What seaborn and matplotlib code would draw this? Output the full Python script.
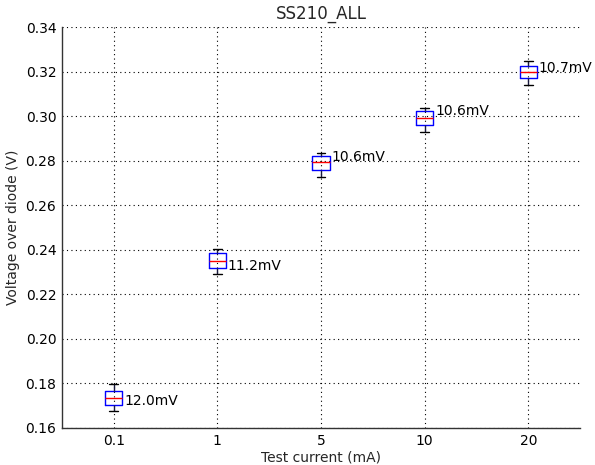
import numpy as np
import pandas as pd
import matplotlib
matplotlib.use("Agg")
import matplotlib.pyplot as plt
import seaborn as sns

# Test currents (mA) and five-number summaries of the measured diode voltage (V)
currents = ["0.1", "1", "5", "10", "20"]
v_min = [0.1677, 0.2290, 0.2728, 0.2930, 0.3140]
v_q1 = [0.1703, 0.2318, 0.2758, 0.2960, 0.3171]
v_med = [0.1735, 0.2352, 0.2794, 0.2991, 0.3198]
v_q3 = [0.1766, 0.2385, 0.2821, 0.3023, 0.3225]
v_max = [0.1797, 0.2402, 0.2834, 0.3036, 0.3247]
# Vertical anchor of each spread annotation (V)
label_y = [0.1721, 0.2327, 0.2816, 0.3023, 0.3216]

rows = []
for c, a, b, m, d, e in zip(currents, v_min, v_q1, v_med, v_q3, v_max):
    for v in (a, b, m, d, e):
        rows.append({"current": c, "voltage": v})
df = pd.DataFrame(rows)

sns.set_style("white")
plt.rcParams["font.family"] = ["DejaVu Sans"]

fig = plt.figure(figsize=(5.95, 4.65), dpi=100)
ax = fig.add_axes([0.104, 0.0796, 0.871, 0.862])

sns.boxplot(
    data=df, x="current", y="voltage", order=currents, ax=ax,
    width=0.165, whis=np.inf, fill=False, linewidth=1.0,
    boxprops=dict(color="#0000ff"),
    medianprops=dict(color="#ff0000"),
    whiskerprops=dict(color="#1a1a40", linestyle="-"),
    capprops=dict(color="#000000"),
    showfliers=False,
)

for i, (lo, hi, ly) in enumerate(zip(v_min, v_max, label_y)):
    ax.text(i + 0.1, ly, f"{(hi - lo) * 1000:.1f}mV", ha="left", va="center",
            fontsize=10, color="black")

ax.set_xlim(-0.5, 4.5)
ax.set_ylim(0.16, 0.34)
ax.set_yticks(np.arange(0.16, 0.3401, 0.02))
ax.set_yticklabels([f"{t:.2f}" for t in np.arange(0.16, 0.3401, 0.02)])
ax.grid(True, color="black", linestyle=(0, (1, 3)), linewidth=0.8)
ax.set_axisbelow(True)
for s in ("top", "right"):
    ax.spines[s].set_visible(False)
for s in ("left", "bottom"):
    ax.spines[s].set_color("#333333")
    ax.spines[s].set_linewidth(1.0)
ax.tick_params(length=0, labelsize=10, colors="black", pad=4)

ax.set_title("SS210_ALL", fontsize=12, pad=6)
ax.set_xlabel("Test current (mA)", fontsize=10, labelpad=2)
ax.set_ylabel("Voltage over diode (V)", fontsize=10)

fig.savefig("out.png", dpi=100)
